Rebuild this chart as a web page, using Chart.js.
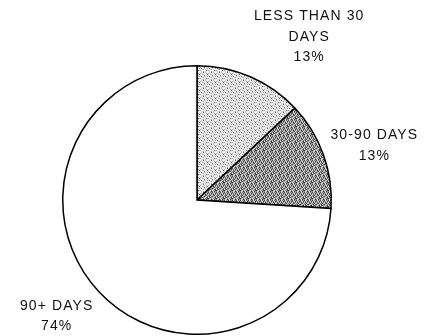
<!DOCTYPE html>
<html>
<head>
<meta charset="utf-8">
<script src="https://cdn.jsdelivr.net/npm/chart.js@4"></script>
<style>
  html, body { margin: 0; padding: 0; background: #ffffff; }
  canvas { display: block; }
</style>
</head>
<body>
<canvas id="c" width="424" height="336"></canvas>
<script>
// ---- data ----
const categories = ["LESS THAN 30 DAYS", "30-90 DAYS", "90+ DAYS"];
const labelLines = [["LESS THAN 30", "DAYS"], ["30-90 DAYS"], ["90+ DAYS"]];
const values = [13, 13, 74];

// ---- styles: hand-drawn 8x8 stipple tiles (0=white-ish,1=light grey,2=mid grey,3=dark) ----
const lightTile = [
  "01030100",
  "20001020",
  "00210003",
  "10003010",
  "03001002",
  "00120100",
  "20000031",
  "01020100"
];
const darkTile = [
  "30213021",
  "12032103",
  "03120312",
  "21301230",
  "13023102",
  "02311023",
  "31020213",
  "20132031"
];
const shadeLight = ['#f4f4f4', '#c8c8c8', '#9a9a9a', '#5a5a5a'];
const shadeDark = ['#e4e4e4', '#a8a8a8', '#787878', '#383838'];
function makePattern(tile, shades) {
  const t = document.createElement('canvas');
  t.width = 8; t.height = 8;
  const g = t.getContext('2d');
  tile.forEach((row, y) => row.split('').forEach((ch, x) => {
    g.fillStyle = shades[+ch]; g.fillRect(x, y, 1, 1);
  }));
  return g.createPattern(t, 'repeat');
}
const lightFill = makePattern(lightTile, shadeLight);
const darkFill = makePattern(darkTile, shadeDark);
const fills = [lightFill, darkFill, '#ffffff'];
// label placement: distance beyond the rim along mid-angle, plus small nudges
const labelGap = 50;
const labelNudge = [[39, 6], [4, 8], [-6, -10]];

const labelPlugin = {
  id: 'sliceLabels',
  afterDatasetsDraw(chart) {
    const ctx = chart.ctx;
    const meta = chart.getDatasetMeta(0);
    ctx.save();
    ctx.font = '14px "Liberation Sans", Arial, sans-serif';
    ctx.letterSpacing = '1.1px';
    ctx.fillStyle = '#111111';
    ctx.textAlign = 'center';
    ctx.textBaseline = 'middle';
    const lh = 20.4;
    meta.data.forEach((arc, i) => {
      const p = arc.getProps(['x', 'y', 'startAngle', 'endAngle', 'outerRadius'], true);
      const mid = (p.startAngle + p.endAngle) / 2;
      const r = p.outerRadius + labelGap;
      const cx = p.x + Math.cos(mid) * r + labelNudge[i][0];
      const cy = p.y + Math.sin(mid) * r + labelNudge[i][1];
      const lines = labelLines[i].concat([values[i] + '%']);
      const top = cy - (lines.length - 1) * lh / 2;
      lines.forEach((ln, k) => ctx.fillText(ln, cx, top + k * lh));
    });
    ctx.restore();
  }
};

new Chart(document.getElementById('c'), {
  type: 'pie',
  data: {
    labels: categories,
    datasets: [{
      data: values,
      backgroundColor: fills,
      borderColor: '#000000',
      borderWidth: 1.5,
      borderJoinStyle: 'miter'
    }]
  },
  options: {
    responsive: false,
    animation: false,
    layout: { padding: { left: 62, right: 92, top: 65, bottom: 1 } },
    plugins: { legend: { display: false }, tooltip: { enabled: false } }
  },
  plugins: [labelPlugin]
});
</script>
</body>
</html>
